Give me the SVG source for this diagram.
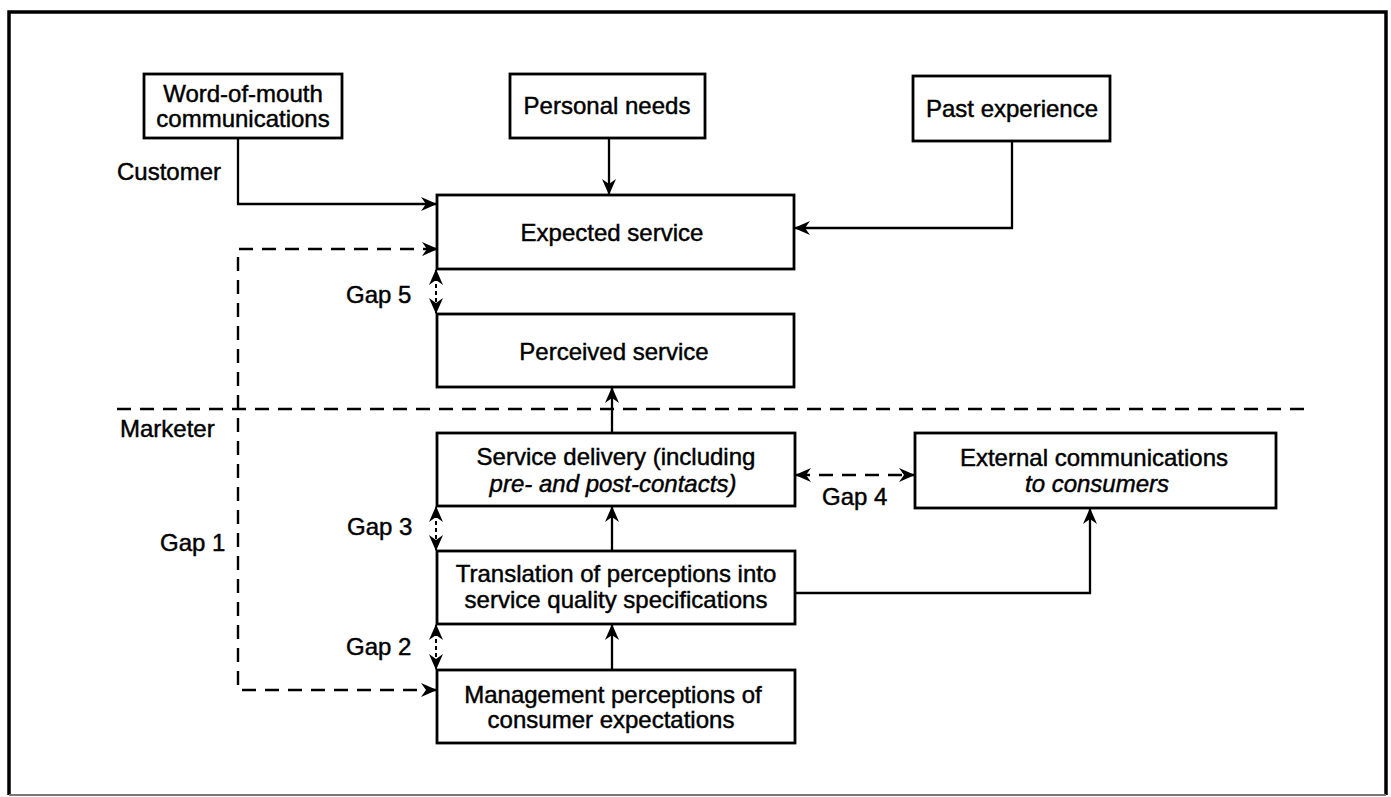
<svg xmlns="http://www.w3.org/2000/svg" width="1391" height="797" viewBox="0 0 1391 797">
<style>
  .box { fill: #fff; stroke: #000; stroke-width: 2.8; }
  .t { font-family: "Liberation Sans", Arial, Helvetica, sans-serif; font-size: 24px; fill: #000; stroke: #000; stroke-width: 0.45; }
  .c { text-anchor: middle; }
  .i { font-style: italic; }
  .ln { fill: none; stroke: #000; stroke-width: 2.3; }
  .dash { fill: none; stroke: #000; stroke-width: 2.4; stroke-dasharray: 14 9; }
  .dot { fill: none; stroke: #000; stroke-width: 2; stroke-dasharray: 4 3; }
</style>
<defs>
  <marker id="ah" markerUnits="userSpaceOnUse" markerWidth="16" markerHeight="14" refX="15" refY="7" orient="auto-start-reverse">
    <path d="M0,0 L16,7 L0,14 L5,7 Z" fill="#000"/>
  </marker>
</defs>
<rect width="1391" height="797" fill="#fff"/>
<g id="frame">
  <path d="M9,795 V12 H1386 V795" fill="none" stroke="#000" stroke-width="3.5"/>
  <line x1="9" y1="795" x2="1386" y2="795" stroke="#777" stroke-width="2"/>
</g>
<g id="connectors">
  <path class="ln" d="M238,138 V204 H436" marker-end="url(#ah)"/>
  <path class="ln" d="M609,138 V194" marker-end="url(#ah)"/>
  <path class="ln" d="M1012,141 V228 H795" marker-end="url(#ah)"/>
  <path class="dash" d="M437,249 H238 V690 H436" marker-start="url(#ah)" marker-end="url(#ah)"/>
  <line class="dash" x1="117" y1="409" x2="1309" y2="409"/>
  <path class="ln" d="M612,433 V388" marker-end="url(#ah)"/>
  <path class="ln" d="M612,551 V507" marker-end="url(#ah)"/>
  <path class="ln" d="M612,670 V625" marker-end="url(#ah)"/>
  <path class="ln" d="M795,593 H1090 V509" marker-end="url(#ah)"/>
  <path class="dash" d="M796,475 H914" stroke-dasharray="12 8" marker-start="url(#ah)" marker-end="url(#ah)"/>
  <path class="dot" d="M436,270 V313" marker-start="url(#ah)" marker-end="url(#ah)"/>
  <path class="dot" d="M436,507 V550" marker-start="url(#ah)" marker-end="url(#ah)"/>
  <path class="dot" d="M436,625 V669" marker-start="url(#ah)" marker-end="url(#ah)"/>
</g>
<g id="wom">
  <rect class="box" x="144" y="74" width="198" height="64"/>
  <text class="t c" x="243" y="102">Word-of-mouth</text>
  <text class="t c" x="243" y="127">communications</text>
</g>
<g id="personal">
  <rect class="box" x="510" y="74" width="195" height="64"/>
  <text class="t c" x="607" y="114">Personal needs</text>
</g>
<g id="past">
  <rect class="box" x="913" y="76" width="197" height="65"/>
  <text class="t c" x="1012" y="117">Past experience</text>
</g>
<g id="expected">
  <rect class="box" x="437" y="195" width="357" height="74"/>
  <text class="t c" x="612" y="241">Expected service</text>
</g>
<g id="perceived">
  <rect class="box" x="437" y="314" width="357" height="73"/>
  <text class="t c" x="614" y="360">Perceived service</text>
</g>
<g id="delivery">
  <rect class="box" x="437" y="433" width="358" height="73"/>
  <text class="t c" x="616" y="465">Service delivery (including</text>
  <text class="t c i" x="613" y="492">pre- and post-contacts)</text>
</g>
<g id="translation">
  <rect class="box" x="437" y="551" width="358" height="73"/>
  <text class="t c" x="616" y="582">Translation of perceptions into</text>
  <text class="t c" x="616" y="608">service quality specifications</text>
</g>
<g id="management">
  <rect class="box" x="437" y="670" width="358" height="73"/>
  <text class="t c" x="613" y="703">Management perceptions of</text>
  <text class="t c" x="611" y="728">consumer expectations</text>
</g>
<g id="external">
  <rect class="box" x="915" y="433" width="361" height="75"/>
  <text class="t c" x="1094" y="466">External communications</text>
  <text class="t c i" x="1097" y="492">to consumers</text>
</g>
<g id="labels">
  <text class="t" x="117" y="180">Customer</text>
  <text class="t" x="120" y="437">Marketer</text>
  <text class="t" x="346" y="303">Gap 5</text>
  <text class="t" x="160" y="551">Gap 1</text>
  <text class="t" x="347" y="535">Gap 3</text>
  <text class="t" x="346" y="655">Gap 2</text>
  <text class="t" x="822" y="505">Gap 4</text>
</g>
</svg>
